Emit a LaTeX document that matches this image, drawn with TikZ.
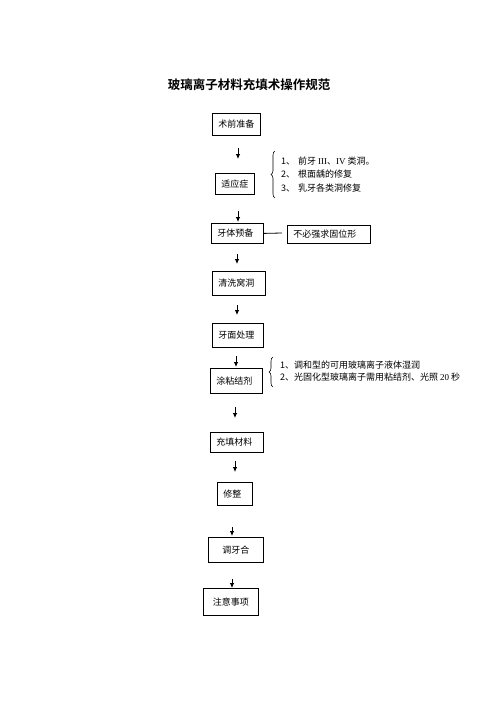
\documentclass[tikz,border=0pt]{standalone}
\usepackage{fontspec}
\setmainfont{Noto Sans CJK SC}[BoldFont={Noto Sans CJK SC Bold}]
\newfontfamily\lat{Liberation Serif}
\usetikzlibrary{arrows.meta,decorations.pathreplacing}

\begin{document}
\begin{tikzpicture}
[x=1pt,y=-1pt,
 stepbox/.style={draw,line width=.8pt,anchor=north west,inner xsep=6pt,inner ysep=0pt,align=left,font=\fontsize{9}{11}\selectfont},
 note/.style={anchor=west,align=left,inner sep=0pt,font=\fontsize{9}{11}\selectfont},
 flow/.style={-{Latex[length=5pt,width=4.5pt]},line width=.8pt},
 bracket/.style={decorate,decoration={brace,amplitude=4pt},line width=.6pt}]

\useasboundingbox (0,0) rectangle (496,702);

\node (title) at (249,85) [font=\fontsize{12.5}{14}\selectfont\bfseries] {玻璃离子材料充填术操作规范};

\node (prep) at (212,113) [stepbox,text width=36pt,minimum height=22pt] {术前准备};
\node (ind) at (215,173) [stepbox,text width=27pt,minimum height=21pt] {适应症};
\node (tooth) at (211,223) [stepbox,text width=40pt,minimum height=20pt] {牙体预备};
\node (ret) at (287,225) [stepbox,text width=71pt,minimum height=18pt] {不必强求固位形};
\node (clean) at (212,271) [stepbox,text width=41pt,minimum height=24pt] {清洗窝洞};
\node (surf) at (212,323) [stepbox,text width=39pt,minimum height=24pt] {牙面处理};
\node (bond) at (210,368) [stepbox,text width=40pt,minimum height=25pt] {涂粘结剂};
\node (fill) at (210,432) [stepbox,text width=41pt,minimum height=20pt] {充填材料};
\node (trim) at (217,482) [stepbox,text width=23pt,minimum height=23pt] {修整};
\node (occl) at (208,537) [stepbox,text width=43pt,minimum height=25pt,align=center] {调牙合};
\node (care) at (203,588) [stepbox,text width=43pt,minimum height=27pt,align=center] {注意事项};

\node (ind list) at (281,174.5) [note,font=\fontsize{9}{13.5}\selectfont]
  {1、\hspace{3pt}前牙 {\lat III}、{\lat IV} 类洞。\\
   2、\hspace{3pt}根面龋的修复\\
   3、\hspace{3pt}乳牙各类洞修复};
\node (bond list) at (280,371) [note,font=\fontsize{9}{12}\selectfont]
  {1、调和型的可用玻璃离子液体湿润\\
   2、光固化型玻璃离子需用粘结剂、光照 {\lat 20} 秒};

\draw[bracket] (275,198) -- (275,151);
\draw[bracket] (273,387) -- (273,357);

\coordinate (link) at (282,233);
\draw[line width=.8pt] (tooth.east) -- (link);

\foreach \i/\x/\ya/\yb in {1/238/148/159, 2/238/211/222, 3/237/254/264,
    4/237/305/315, 5/236/356/367, 6/235/407/418, 7/235/461/472,
    8/232/527/536, 9/232/579/588}
{
  \coordinate (tail\i) at (\x,\ya);
  \coordinate (head\i) at (\x,\yb);
  \draw[flow] (tail\i) -- (head\i);
}
\end{tikzpicture}
\end{document}
